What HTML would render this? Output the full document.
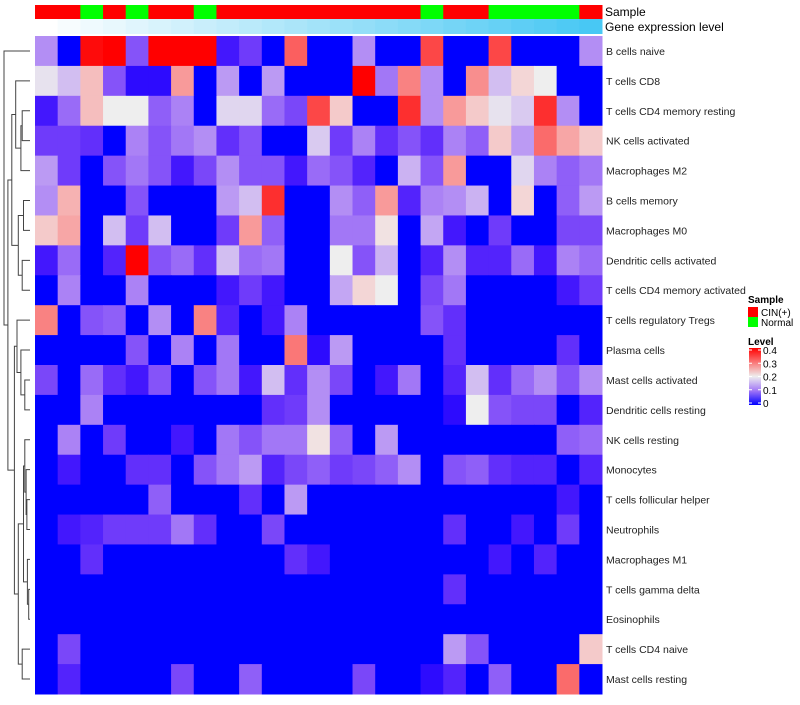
<!DOCTYPE html>
<html><head><meta charset="utf-8"><style>
body{margin:0;background:#fff;font-family:"Liberation Sans",sans-serif}
svg text{font-family:"Liberation Sans",sans-serif}
</style></head><body>
<svg id="chart" width="800" height="700"></svg>
<script>
const rowNames=["B cells naive","T cells CD8","T cells CD4 memory resting","NK cells activated","Macrophages M2","B cells memory","Macrophages M0","Dendritic cells activated","T cells CD4 memory activated","T cells regulatory  Tregs","Plasma cells","Mast cells activated","Dendritic cells resting","NK cells resting","Monocytes","T cells follicular helper","Neutrophils","Macrophages M1","T cells gamma delta","Eosinophils","T cells CD4 naive","Mast cells resting"];
const sampleGroups=["CIN(+)","CIN(+)","Normal","CIN(+)","Normal","CIN(+)","CIN(+)","Normal","CIN(+)","CIN(+)","CIN(+)","CIN(+)","CIN(+)","CIN(+)","CIN(+)","CIN(+)","CIN(+)","Normal","CIN(+)","CIN(+)","Normal","Normal","Normal","Normal","CIN(+)"];
const legendTicks=[0,0.1,0.2,0.3,0.4];
const v0=[0.12,0,0.39,0.4,0.07,0.4,0.4,0.4,0.02,0.05,0,0.32,0,0,0.12,0,0,0.34,0,0,0.34,0,0,0,0.12];
const v1=[0.19,0.16,0.24,0.07,0.01,0.01,0.27,0,0.13,0,0.13,0,0,0,0.4,0.1,0.29,0.12,0,0.28,0.16,0.22,0.2,0,0];
const v2=[0.02,0.09,0.24,0.2,0.2,0.08,0.11,0,0.18,0.18,0.09,0.06,0.34,0.23,0,0,0.36,0.12,0.27,0.23,0.19,0.17,0.36,0.12,0];
const v3=[0.05,0.05,0.04,0,0.11,0.07,0.1,0.12,0.04,0.07,0,0,0.17,0.05,0.11,0.04,0.07,0.04,0.11,0.08,0.23,0.13,0.31,0.26,0.23];
const v4=[0.13,0.05,0,0.07,0.1,0.07,0.02,0.06,0.12,0.07,0.07,0.02,0.09,0.07,0.03,0,0.15,0.07,0.27,0,0,0.18,0.11,0.08,0.1];
const v5=[0.12,0.25,0,0,0.07,0,0,0,0.13,0.16,0.36,0,0,0.12,0.08,0.27,0.03,0.11,0.12,0.15,0,0.22,0,0.08,0.13];
const v6=[0.23,0.26,0,0.16,0.05,0.16,0,0,0.05,0.27,0.08,0,0,0.1,0.1,0.21,0,0.14,0.02,0,0.05,0,0,0.06,0.06];
const v7=[0.02,0.09,0,0.03,0.4,0.07,0.09,0.04,0.16,0.09,0.1,0,0,0.2,0.07,0.15,0,0.03,0.12,0.03,0.03,0.09,0.02,0.11,0.09];
const v8=[0,0.11,0,0,0.11,0,0,0,0.02,0.05,0.02,0,0,0.14,0.22,0.2,0,0.06,0.1,0,0,0,0,0.02,0.05];
const v9=[0.29,0,0.07,0.08,0,0.12,0,0.29,0.03,0,0.02,0.11,0,0,0,0,0,0.07,0.04,0,0,0,0,0,0];
const v10=[0,0,0,0,0.07,0,0.11,0,0.1,0,0,0.3,0.01,0.13,0,0,0,0,0.04,0,0,0,0,0.04,0];
const v11=[0.06,0,0.09,0.04,0.02,0.07,0,0.07,0.1,0.02,0.16,0.04,0.12,0.06,0,0.02,0.1,0,0.03,0.16,0.04,0.09,0.12,0.07,0.12];
const v12=[0,0,0.11,0,0,0,0,0,0,0,0.04,0.05,0.12,0,0,0,0,0,0.01,0.2,0.07,0.06,0.06,0,0.03];
const v13=[0,0.11,0,0.05,0,0,0.02,0,0.1,0.07,0.1,0.1,0.21,0.08,0,0.13,0,0,0,0,0,0,0,0.08,0.09];
const v14=[0,0.02,0,0,0.04,0.04,0,0.07,0.1,0.13,0.03,0.06,0.08,0.05,0.06,0.08,0.12,0,0.07,0.08,0.04,0.03,0.03,0,0.03];
const v15=[0,0,0,0,0,0.08,0,0,0,0.04,0,0.13,0,0,0,0,0,0,0,0,0,0,0,0.02,0];
const v16=[0,0.02,0.03,0.05,0.05,0.05,0.1,0.04,0,0,0.06,0,0,0,0,0,0,0,0.04,0,0,0.02,0,0.05,0];
const v17=[0,0,0.04,0,0,0,0,0,0,0,0,0.04,0.02,0,0,0,0,0,0,0,0.02,0,0.03,0,0];
const v18=[0,0,0,0,0,0,0,0,0,0,0,0,0,0,0,0,0,0,0.04,0,0,0,0,0,0];
const v19=[0,0,0,0,0,0,0,0,0,0,0,0,0,0,0,0,0,0,0,0,0,0,0,0,0];
const v20=[0,0.06,0,0,0,0,0,0,0,0,0,0,0,0,0,0,0,0,0.13,0.07,0,0,0,0,0.23];
const v21=[0,0.03,0,0,0,0,0.06,0,0,0.08,0,0,0,0,0.06,0,0,0.01,0.03,0,0.08,0,0,0.31,0];
const values=[v0,v1,v2,v3,v4,v5,v6,v7,v8,v9,v10,v11,v12,v13,v14,v15,v16,v17,v18,v19,v20,v21];

const NS="http://www.w3.org/2000/svg";
const svg=document.getElementById('chart');
const X0=35,X1=602,Y0=36,Y1=694;
const nC=sampleGroups.length,nR=rowNames.length;
const cw=(X1-X0)/nC,rh=(Y1-Y0)/nR;
const xPos=c=>X0+c*cw, yPos=r=>Y0+r*rh;
function mk(t,a,p){const e=document.createElementNS(NS,t);for(const k in a)e.setAttribute(k,a[k]);(p||svg).appendChild(e);return e;}
function color(v){
  const t=Math.max(0,Math.min(1,v/0.4));
  let r,g,b;
  if(t<0.5){const s=t/0.5;r=238*Math.pow(s,0.55);g=238*s;b=255-17*s;}
  else{const s=(t-0.5)/0.5;r=238+17*Math.pow(s,0.5);g=238-238*s;b=238-238*s;}
  return `rgb(${r|0},${g|0},${b|0})`;
}
sampleGroups.forEach((s,c)=>{
  const e=mk('rect',{x:xPos(c),y:5,width:cw+0.5,height:14,fill:s==="Normal"?"#00ff00":"#ff0000"});
  
  
  const t=c/(nC-1);
  const g=mk('rect',{x:xPos(c),y:19,width:cw+0.5,height:15,fill:`rgb(${255-183*t|0},${255-55*t|0},${255-11*t|0})`});
  
  
});
let t1=mk('text',{x:605,y:16,'font-size':12,fill:'#000'});t1.textContent="Sample";

let t2=mk('text',{x:605,y:31,'font-size':12,fill:'#000'});t2.textContent="Gene expression level";

values.forEach((row,r)=>{
  row.forEach((v,c)=>{
    const e=mk('rect',{x:xPos(c),y:yPos(r),width:cw+0.5,height:rh+0.5,fill:color(v)});
    
    
  });
  const l=mk('text',{x:606,y:yPos(r)+rh/2+4,'font-size':10.5,fill:'#222'});
  l.textContent=rowNames[r];
  
  
});
const tree=[[0,[[[1,[[2,3,0.3],4,0.35],0.55],[[5,6,0.25],[7,8,0.3],0.45],0.7],[[9,[10,[11,12,0.2],0.35],0.5],[[[13,[14,[15,16,0.12],0.15],0.2],[17,[18,19,0.05],0.1],0.25],[20,21,0.3],0.45],0.6],0.85],1.0]];
const hx=h=>30-h*26;
function draw(n){
  if(typeof n==="number")return{y:yPos(n)+rh/2,x:30};
  const a=draw(n[0]),b=draw(n[1]),x=hx(n[2]);
  const p=mk('path',{d:`M${a.x},${a.y}H${x}V${b.y}H${b.x}`,fill:'none',stroke:'#444','stroke-width':1});
  
  
  return{y:(a.y+b.y)/2,x:x};
}
draw(tree[0]);
const lg=mk('g',{});


let s=mk('text',{x:748,y:303,'font-size':10,'font-weight':'bold'},lg);s.textContent="Sample";
[["CIN(+)","#ff0000"],["Normal","#00ff00"]].forEach((d,i)=>{
  const r=mk('rect',{x:748,y:307+i*10,width:10,height:10,fill:d[1]},lg);
  
  const t=mk('text',{x:761,y:316+i*10,'font-size':10},lg);t.textContent=d[0];
  
});
let lv=mk('text',{x:748,y:345,'font-size':10,'font-weight':'bold'},lg);lv.textContent="Level";
const defs=mk('defs',{});
const gr=mk('linearGradient',{id:'lvg',x1:0,y1:1,x2:0,y2:0},defs);
[0,0.25,0.5,0.75,1].forEach(o=>mk('stop',{offset:o,'stop-color':color(o*0.4)},gr));
const LB0=403,LB1=350;
const lb=mk('rect',{x:749,y:LB1-2,width:12,height:LB0-LB1+4,fill:'url(#lvg)'},lg);

legendTicks.forEach(v=>{
  const y=LB0-(v/0.4)*(LB0-LB1);
  mk('line',{x1:749,x2:752,y1:y,y2:y,stroke:'#fff'},lg);
  mk('line',{x1:758,x2:761,y1:y,y2:y,stroke:'#fff'},lg);
  const t=mk('text',{x:763,y:y+4,'font-size':10},lg);t.textContent=String(v);
  
});
</script>
</body></html>
